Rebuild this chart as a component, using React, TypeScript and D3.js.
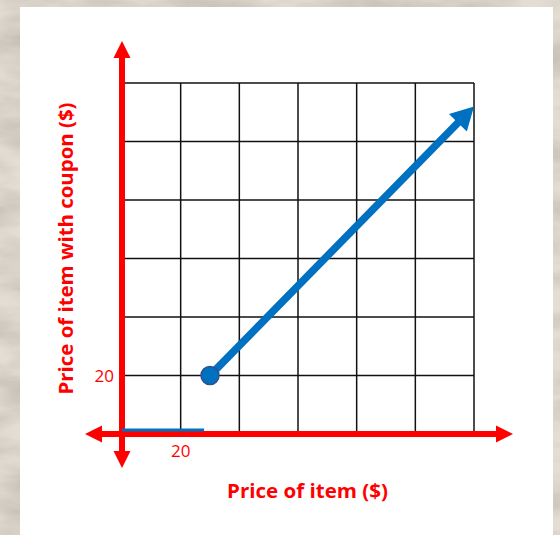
import React from 'react';
import { scaleLinear, range, line } from 'd3';

// chart values
const gridTicks = range(0, 121, 20);
const tickLabels = [{ axis: 'x', value: 20, text: '20' }, { axis: 'y', value: 20, text: '20' }];
const startPoint = [30, 20];
const endPoint = [120, 112];
const flatSegment = [[0, 0], [28, 0]];
const xTitle = 'Price of item ($)';
const yTitle = 'Price of item with coupon ($)';

const RED = '#ff0000';
const BLUE = '#0070c0';

const W = 560;
const H = 535;

const x = scaleLinear().domain([0, 120]).range([122, 474]);
const y = scaleLinear().domain([0, 120]).range([434, 83]);

const arrowHead = (tipX, tipY, angle, len, half) => {
  const c = Math.cos(angle), s = Math.sin(angle);
  const bx = tipX - c * len, by = tipY - s * len;
  return `${tipX},${tipY} ${bx - s * half},${by + c * half} ${bx + s * half},${by - c * half}`;
};

const App = () => {
  const x0 = x(0), y0 = y(0);
  const axTop = 41, axBottom = 468, axLeft = 85, axRight = 513;
  const ah = 17;

  // blue ray
  const sx = x(startPoint[0]), sy = y(startPoint[1]);
  const ex = x(endPoint[0]), ey = y(endPoint[1]);
  const ang = Math.atan2(ey - sy, ex - sx);
  const headLen = 23;
  const shaftEnd = [ex - Math.cos(ang) * (headLen - 2), ey - Math.sin(ang) * (headLen - 2)];

  const flatPath = line().x(d => x(d[0])).y(d => y(d[1]))(flatSegment);

  return (
    <svg width={W} height={H} style={{ position: 'absolute', left: 0, top: 0 }}>
      <defs>
        <filter id="marble" x="0" y="0" width="100%" height="100%">
          <feTurbulence type="fractalNoise" baseFrequency="0.012 0.035" numOctaves="4" seed="3" />
          <feColorMatrix type="matrix" values="0 0 0 0 0.5  0 0 0 0 0.46  0 0 0 0 0.4  0 0 0 1.8 -0.6" />
        </filter>
      </defs>
      <rect width={W} height={H} fill="#e4ddd3" />
      <rect width={W} height={H} filter="url(#marble)" opacity={0.8} />
      <rect x={20} y={7} width={533} height={H - 7} fill="#ffffff" />

      {/* grid */}
      <g stroke="#111" strokeWidth={1.5}>
        {gridTicks.map(t => (
          <line key={'v' + t} x1={x(t)} x2={x(t)} y1={y(120)} y2={y(0)} />
        ))}
        {gridTicks.map(t => (
          <line key={'h' + t} x1={x(0)} x2={x(120)} y1={y(t)} y2={y(t)} />
        ))}
      </g>

      {/* red axes */}
      <g fill={RED} stroke="none">
        <rect x={x0 - 3} y={axTop + ah - 1} width={6} height={axBottom - axTop - 2 * ah + 2} />
        <rect x={axLeft + ah - 1} y={y0 - 3} width={axRight - axLeft - 2 * ah + 2} height={6} />
        <polygon points={arrowHead(x0, axTop, -Math.PI / 2, ah, 8.5)} />
        <polygon points={arrowHead(x0, axBottom, Math.PI / 2, ah, 8.5)} />
        <polygon points={arrowHead(axLeft, y0, Math.PI, ah, 8.5)} />
        <polygon points={arrowHead(axRight, y0, 0, ah, 8.5)} />
      </g>

      {/* flat segment on the x axis */}
      <path d={flatPath} transform="translate(0,-4)" stroke={BLUE} strokeWidth={3} fill="none" />

      {/* blue ray */}
      <line x1={sx} y1={sy} x2={shaftEnd[0]} y2={shaftEnd[1]} stroke={BLUE} strokeWidth={7.5} />
      <polygon points={arrowHead(ex, ey, ang, headLen, 12.5)} fill={BLUE} />
      <circle cx={sx} cy={sy} r={9} fill={BLUE} stroke="#2f528f" strokeWidth={1.5} />

      {/* tick labels */}
      <g fill={RED} fontFamily="'Open Sans', sans-serif" fontSize={17}>
        {tickLabels.map(t =>
          t.axis === 'x' ? (
            <text key="tx" x={x(t.value)} y={457} textAnchor="middle">{t.text}</text>
          ) : (
            <text key="ty" x={114} y={y(t.value) + 6} textAnchor="end">{t.text}</text>
          )
        )}
      </g>

      {/* titles */}
      <g fill={RED} fontFamily="'Open Sans', sans-serif" fontWeight="bold" fontSize={19}>
        <text x={307.5} y={498} textAnchor="middle" textLength={161} lengthAdjust="spacingAndGlyphs">{xTitle}</text>
        <text transform={`translate(73,248.5) rotate(-90)`} textAnchor="middle" textLength={292} lengthAdjust="spacingAndGlyphs">{yTitle}</text>
      </g>
    </svg>
  );
};

export default App;
